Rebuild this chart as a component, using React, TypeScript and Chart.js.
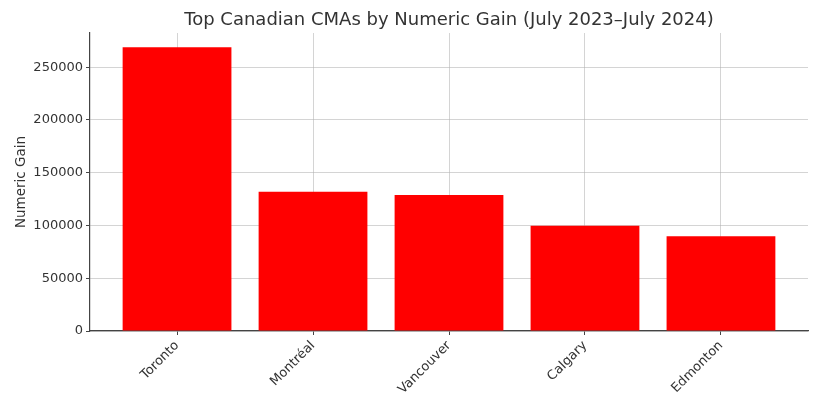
import React, { useEffect, useRef } from "react";
import { Chart, registerables } from "chart.js";

Chart.register(...registerables);

const categories = ["Toronto", "Montréal", "Vancouver", "Calgary", "Edmonton"];
const numericGain = [269000, 132000, 129000, 99700, 89800];
const yTicks = [0, 50000, 100000, 150000, 200000, 250000];
const titleText = "Top Canadian CMAs by Numeric Gain (July 2023–July 2024)";
const yTitle = "Numeric Gain";

export default function App() {
  const ref = useRef<HTMLCanvasElement | null>(null);

  useEffect(() => {
    if (!ref.current) return;
    const font = "'DejaVu Sans', sans-serif";
    const gridColor = "rgba(176,176,176,0.55)";
    const spine = "#444";
    const maxVal = Math.max(...numericGain);
    const chart = new Chart(ref.current, {
      type: "bar",
      data: {
        datasets: [
          {
            data: numericGain.map((v, i) => ({ x: i, y: v })),
            backgroundColor: "#ff0000",
            borderWidth: 0,
            barPercentage: 1,
            categoryPercentage: 0.8,
          },
        ],
      },
      options: {
        responsive: false,
        animation: false,
        layout: { padding: { left: 7, right: 25, top: 0, bottom: 0 } },
        plugins: {
          legend: { display: false },
          tooltip: { enabled: false },
          title: {
            display: true,
            text: titleText,
            fullSize: false,
            color: "#333",
            font: { family: font, size: 18, weight: "normal" },
            padding: { top: 10, bottom: 1.4 },
          },
        },
        scales: {
          x: {
            type: "linear",
            offset: false,
            min: -0.64,
            max: categories.length - 1 + 0.64,
            z: 1,
            grid: {
              offset: false,
              color: gridColor,
              borderDash: [2.5, 2.5],
              tickColor: spine,
              tickBorderDash: [],
              tickLength: 4,
            },
            border: { color: spine, width: 1.2 },
            afterBuildTicks: (s: any) => {
              s.ticks = categories.map((_, i) => ({ value: i }));
            },
            ticks: {
              autoSkip: false,
              maxRotation: 45,
              minRotation: 45,
              padding: 3,
              color: "#333",
              font: { family: font, size: 13 },
              callback: (v: any) => {
                const n = Number(v);
                return Number.isInteger(n) && categories[n] ? categories[n] : "";
              },
            },
            afterFit: (s: any) => {
              s.height = 71;
            },
          },
          y: {
            min: 0,
            max: maxVal * 1.05,
            z: 1,
            grid: {
              color: gridColor,
              borderDash: [2.5, 2.5],
              tickColor: spine,
              tickBorderDash: [],
              tickLength: 4,
            },
            border: { color: spine, width: 1.2 },
            afterBuildTicks: (s: any) => {
              s.ticks = yTicks.map((v) => ({ value: v }));
            },
            ticks: {
              padding: 3,
              color: "#333",
              font: { family: font, size: 13 },
              callback: (v: any) => String(v),
            },
            title: {
              display: true,
              text: yTitle,
              color: "#333",
              font: { family: font, size: 13.5 },
              padding: { top: 6, bottom: 0 },
            },
            afterFit: (s: any) => {
              s.width = 83;
            },
          },
        },
      },
    } as any);
    return () => chart.destroy();
  }, []);

  return (
    <div style={{ position: "absolute", left: 0, top: 0, width: 833, height: 402, background: "#fff" }}>
      <canvas ref={ref} width={833} height={402} />
    </div>
  );
}
